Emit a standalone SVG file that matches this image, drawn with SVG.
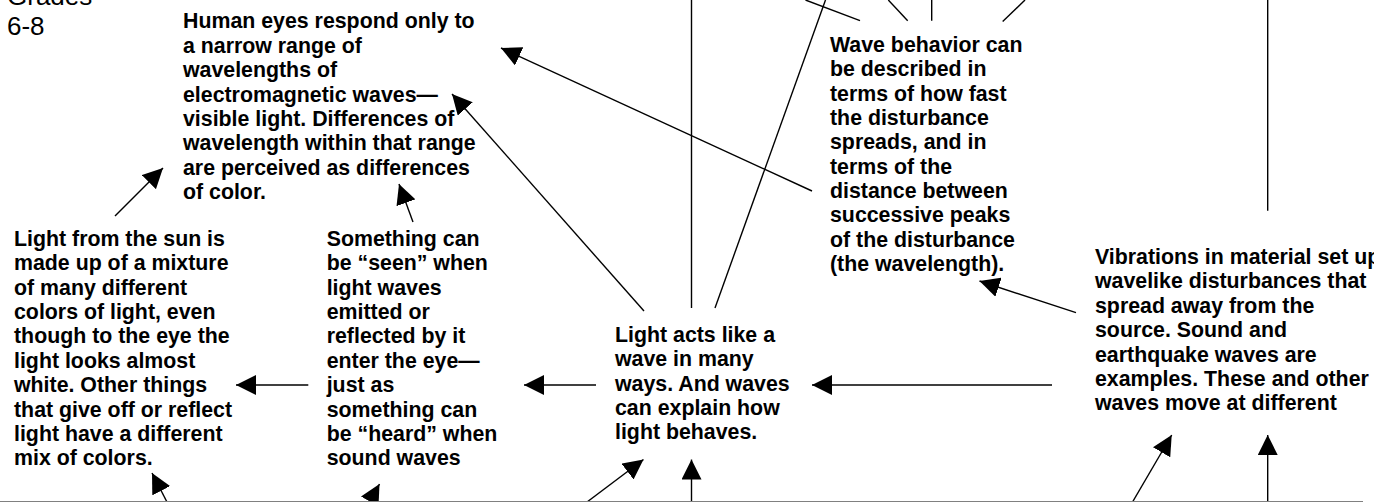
<svg xmlns="http://www.w3.org/2000/svg" width="1374" height="502" viewBox="0 0 1374 502">
<style>
  .t { font-family: "Liberation Sans", Arial, sans-serif; font-size: 21.33px; font-weight: bold; fill: #000; }
  .g { font-family: "Liberation Sans", Arial, sans-serif; font-size: 26px; fill: #000; }
  .c line { stroke: #000; stroke-width: 1.4; fill: none; }
  .a { marker-end: url(#ah); }
</style>
<defs>
  <marker id="ah" viewBox="0 0 20 20" refX="20" refY="10" markerWidth="20" markerHeight="20" markerUnits="userSpaceOnUse" orient="auto">
    <path d="M0,0 L20,10 L0,20 z" fill="#000"/>
  </marker>
</defs>
<rect width="1374" height="502" fill="#fff"/>

<g id="grades">
  <text class="g" x="7" y="5">Grades</text>
  <text class="g" x="7" y="35">6-8</text>
</g>

<g id="human-eyes">
  <text class="t" x="183" y="28.3">
    <tspan x="183">Human eyes respond only to</tspan>
    <tspan x="183" dy="24.4">a narrow range of</tspan>
    <tspan x="183" dy="24.4">wavelengths of</tspan>
    <tspan x="183" dy="24.4">electromagnetic waves—</tspan>
    <tspan x="183" dy="24.4">visible light. Differences of</tspan>
    <tspan x="183" dy="24.4">wavelength within that range</tspan>
    <tspan x="183" dy="24.4">are perceived as differences</tspan>
    <tspan x="183" dy="24.4">of color.</tspan>
  </text>
</g>

<g id="wave-behavior">
  <text class="t" x="830" y="51.7">
    <tspan x="830">Wave behavior can</tspan>
    <tspan x="830" dy="24.4">be described in</tspan>
    <tspan x="830" dy="24.4">terms of how fast</tspan>
    <tspan x="830" dy="24.4">the disturbance</tspan>
    <tspan x="830" dy="24.4">spreads, and in</tspan>
    <tspan x="830" dy="24.4">terms of the</tspan>
    <tspan x="830" dy="24.4">distance between</tspan>
    <tspan x="830" dy="24.4">successive peaks</tspan>
    <tspan x="830" dy="24.4">of the disturbance</tspan>
    <tspan x="830" dy="24.4">(the wavelength).</tspan>
  </text>
</g>

<g id="light-sun">
  <text class="t" x="14" y="245.7">
    <tspan x="14">Light from the sun is</tspan>
    <tspan x="14" dy="24.4">made up of a mixture</tspan>
    <tspan x="14" dy="24.4">of many different</tspan>
    <tspan x="14" dy="24.4">colors of light, even</tspan>
    <tspan x="14" dy="24.4">though to the eye the</tspan>
    <tspan x="14" dy="24.4">light looks almost</tspan>
    <tspan x="14" dy="24.4">white. Other things</tspan>
    <tspan x="14" dy="24.4">that give off or reflect</tspan>
    <tspan x="14" dy="24.4">light have a different</tspan>
    <tspan x="14" dy="24.4">mix of colors.</tspan>
  </text>
</g>

<g id="something-seen">
  <text class="t" x="326.7" y="245.7">
    <tspan x="326.7">Something can</tspan>
    <tspan x="326.7" dy="24.4">be “seen” when</tspan>
    <tspan x="326.7" dy="24.4">light waves</tspan>
    <tspan x="326.7" dy="24.4">emitted or</tspan>
    <tspan x="326.7" dy="24.4">reflected by it</tspan>
    <tspan x="326.7" dy="24.4">enter the eye—</tspan>
    <tspan x="326.7" dy="24.4">just as</tspan>
    <tspan x="326.7" dy="24.4">something can</tspan>
    <tspan x="326.7" dy="24.4">be “heard” when</tspan>
    <tspan x="326.7" dy="24.4">sound waves</tspan>
  </text>
</g>

<g id="light-acts">
  <text class="t" x="615" y="341.7">
    <tspan x="615">Light acts like a</tspan>
    <tspan x="615" dy="24.4">wave in many</tspan>
    <tspan x="615" dy="24.4">ways. And waves</tspan>
    <tspan x="615" dy="24.4">can explain how</tspan>
    <tspan x="615" dy="24.4">light behaves.</tspan>
  </text>
</g>

<g id="vibrations">
  <text class="t" x="1095" y="264">
    <tspan x="1095">Vibrations in material set up</tspan>
    <tspan x="1095" dy="24.4">wavelike disturbances that</tspan>
    <tspan x="1095" dy="24.4">spread away from the</tspan>
    <tspan x="1095" dy="24.4">source. Sound and</tspan>
    <tspan x="1095" dy="24.4">earthquake waves are</tspan>
    <tspan x="1095" dy="24.4">examples. These and other</tspan>
    <tspan x="1095" dy="24.4">waves move at different</tspan>
  </text>
</g>

<g id="connectors" class="c">
  <line class="a" x1="115" y1="216" x2="163" y2="168"/>
  <line class="a" x1="413" y1="222" x2="399" y2="184"/>
  <line class="a" x1="644" y1="311" x2="452" y2="94"/>
  <line class="a" x1="812" y1="191" x2="501" y2="48"/>
  <line x1="691.5" y1="0" x2="691.5" y2="308"/>
  <line x1="715" y1="308" x2="825.5" y2="0"/>
  <line x1="860" y1="20.7" x2="805.5" y2="0"/>
  <line x1="907.7" y1="20.7" x2="888.3" y2="0"/>
  <line x1="931.7" y1="0" x2="931.7" y2="20.7"/>
  <line x1="1002.7" y1="21.5" x2="1025" y2="0"/>
  <line x1="1267.7" y1="0" x2="1267.7" y2="210.7"/>
  <line class="a" x1="1076" y1="312.7" x2="979.5" y2="281"/>
  <line class="a" x1="1052" y1="385" x2="812" y2="385"/>
  <line class="a" x1="596" y1="385" x2="524" y2="385"/>
  <line class="a" x1="308.3" y1="385" x2="236" y2="385"/>
  <line class="a" x1="167" y1="502" x2="152" y2="473"/>
  <line class="a" x1="365" y1="510" x2="379.5" y2="484"/>
  <line class="a" x1="587" y1="502" x2="643.5" y2="459.5"/>
  <line class="a" x1="691.5" y1="502" x2="691.5" y2="459.5"/>
  <line class="a" x1="1132.5" y1="502" x2="1171.7" y2="435"/>
  <line class="a" x1="1267.7" y1="502" x2="1267.7" y2="435"/>
  <line x1="0" y1="501.5" x2="1363" y2="501.5" style="stroke:#808080;stroke-width:1"/>
</g>
</svg>
